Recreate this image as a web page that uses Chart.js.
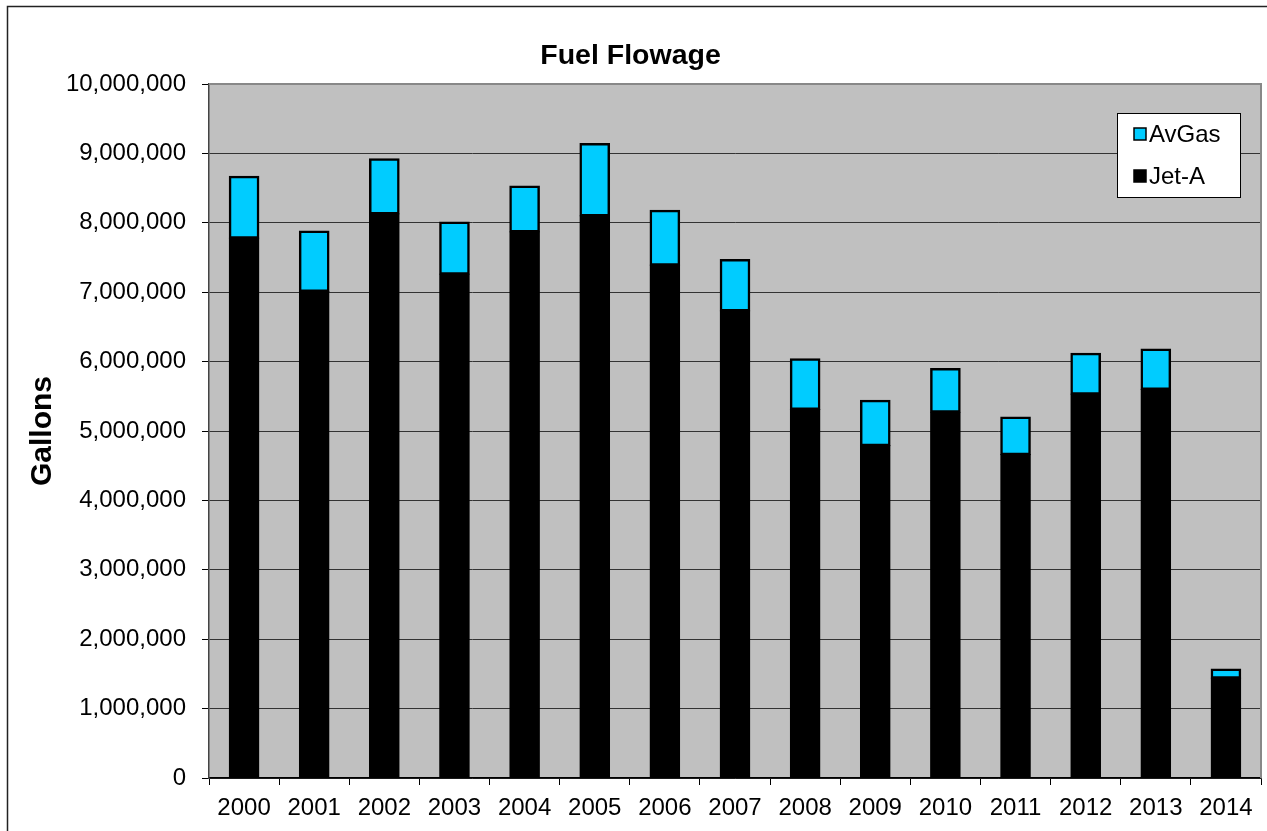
<!DOCTYPE html>
<html>
<head>
<meta charset="utf-8">
<title>Fuel Flowage</title>
<script src="https://cdn.jsdelivr.net/npm/chart.js@4.4.1/dist/chart.umd.min.js"></script>
<style>
  html, body { margin: 0; padding: 0; background: #fff; }
  #chart { display: block; }
</style>
</head>
<body>
<canvas id="chart" width="1267" height="831"></canvas>
<script>
// gallons per year, Jet-A at the bottom of each stack, AvGas on top
const years = ['2000', '2001', '2002', '2003', '2004', '2005', '2006', '2007',
               '2008', '2009', '2010', '2011', '2012', '2013', '2014'];
const jetA = [7780000, 7010000, 8130000, 7260000, 7870000, 8100000, 7390000, 6730000,
              5310000, 4790000, 5270000, 4660000, 5530000, 5600000, 1440000];
const avGas = [890000, 870000, 790000, 750000, 660000, 1040000, 790000, 740000,
               730000, 650000, 630000, 540000, 590000, 580000, 130000];
const yTicks = [0, 1000000, 2000000, 3000000, 4000000, 5000000,
                6000000, 7000000, 8000000, 9000000, 10000000];

const FONT = '"Liberation Sans", Arial, sans-serif';

// white page, thin frame and grey plot background
const backdrop = {
  id: 'backdrop',
  beforeDraw(chart) {
    const { ctx, chartArea: a } = chart;
    ctx.save();
    ctx.fillStyle = '#fff';
    ctx.fillRect(0, 0, chart.width, chart.height);
    ctx.strokeStyle = '#222';
    ctx.lineWidth = 1.5;
    ctx.strokeRect(7.5, 6.5, chart.width + 20, chart.height + 20);
    ctx.fillStyle = '#c0c0c0';
    ctx.fillRect(a.left, a.top, a.right - a.left, a.bottom - a.top);
    ctx.restore();
  },
  afterDraw(chart) {
    const { ctx, chartArea: a } = chart;
    ctx.save();
    ctx.strokeStyle = '#888';
    ctx.lineWidth = 2;
    ctx.beginPath();
    ctx.moveTo(a.left, a.top);
    ctx.lineTo(a.right, a.top);
    ctx.lineTo(a.right, a.bottom);
    ctx.stroke();
    ctx.restore();
  }
};

// boxed legend in the upper right of the plot, top series first
const boxLegend = {
  id: 'boxLegend',
  afterDraw(chart) {
    const { ctx, chartArea: a } = chart;
    const x = a.right - 144, y = a.top + 29, w = 123, h = 84;
    ctx.save();
    ctx.fillStyle = '#fff';
    ctx.fillRect(x, y, w, h);
    ctx.strokeStyle = '#000';
    ctx.lineWidth = 1;
    ctx.strokeRect(x + 0.5, y + 0.5, w, h);
    const items = chart.data.datasets.slice().reverse();
    ctx.font = '24px ' + FONT;
    ctx.textBaseline = 'middle';
    items.forEach((ds, i) => {
      const cy = y + 21 + i * 42;
      ctx.fillStyle = ds.backgroundColor;
      ctx.fillRect(x + 17, cy - 6, 12, 12);
      ctx.strokeStyle = '#000';
      ctx.lineWidth = 1.5;
      ctx.strokeRect(x + 17, cy - 6, 12, 12);
      ctx.fillStyle = '#000';
      ctx.fillText(ds.label, x + 32, cy + 1);
    });
    ctx.restore();
  }
};

new Chart(document.getElementById('chart'), {
  type: 'bar',
  data: {
    labels: years,
    datasets: [
      {
        label: 'Jet-A',
        data: jetA,
        backgroundColor: '#000000',
        borderColor: '#000000',
        borderWidth: 2,
        borderSkipped: false,
        inflateAmount: 0.6,
        barPercentage: 0.42,
        categoryPercentage: 1
      },
      {
        label: 'AvGas',
        data: avGas,
        backgroundColor: '#00ccff',
        borderColor: '#000000',
        borderWidth: 2.5,
        borderSkipped: false,
        inflateAmount: 0.6,
        barPercentage: 0.42,
        categoryPercentage: 1
      }
    ]
  },
  options: {
    responsive: false,
    animation: false,
    layout: { padding: { left: 0, right: 6, top: 0, bottom: 0 } },
    plugins: {
      legend: { display: false },
      tooltip: { enabled: false },
      title: {
        display: true,
        text: 'Fuel Flowage',
        color: '#000',
        font: { family: FONT, size: 28.5, weight: 'bold' },
        padding: { top: 39, bottom: 10.8 }
      }
    },
    scales: {
      x: {
        stacked: true,
        afterFit: (s) => { s.height = 53; },
        grid: {
          offset: true,
          drawOnChartArea: false,
          drawTicks: true,
          tickLength: 7,
          tickColor: '#000',
          color: '#000'
        },
        border: { color: '#000', width: 1.5 },
        ticks: {
          color: '#000',
          font: { family: FONT, size: 24 },
          padding: 9,
          maxRotation: 0
        }
      },
      y: {
        stacked: true,
        min: 0,
        max: 10000000,
        afterFit: (s) => { s.width = 209; },
        afterBuildTicks: (s) => { s.ticks = yTicks.map(v => ({ value: v })); },
        grid: {
          color: '#333',
          lineWidth: 1,
          drawTicks: true,
          tickLength: 7,
          tickColor: '#000'
        },
        border: { color: '#444', width: 1.5 },
        ticks: {
          color: '#000',
          font: { family: FONT, size: 24 },
          padding: 16,
          callback: (v) => Number(v).toLocaleString('en-US')
        },
        title: {
          display: true,
          text: 'Gallons',
          color: '#000',
          font: { family: FONT, size: 30, weight: 'bold' },
          padding: { top: 25, bottom: 0 }
        }
      }
    }
  },
  plugins: [backdrop, boxLegend]
});
</script>
</body>
</html>
